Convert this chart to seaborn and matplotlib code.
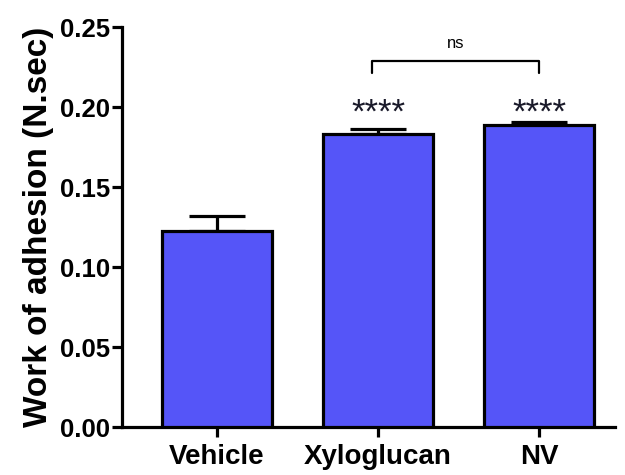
import matplotlib
matplotlib.use("Agg")
import matplotlib.pyplot as plt
import seaborn as sns
import pandas as pd
import numpy as np

categories = ["Vehicle", "Xyloglucan", "NV"]
means = [0.1225, 0.1830, 0.1890]
sem = [0.0095, 0.0030, 0.0015]
stars = ["", "****", "****"]
ytick_vals = [0.00, 0.05, 0.10, 0.15, 0.20, 0.25]
ytick_labels = ["0.00", "0.05", "0.10", "0.15", "0.20", "0.25"]

sns.set_theme(style="ticks")
plt.rcParams["font.family"] = ["Liberation Sans", "DejaVu Sans"]
plt.rcParams["text.color"] = "black"
plt.rcParams["axes.labelcolor"] = "black"
plt.rcParams["xtick.color"] = "black"
plt.rcParams["ytick.color"] = "black"
plt.rcParams["axes.edgecolor"] = "black"

df = pd.DataFrame({"group": categories, "value": means})

fig = plt.figure(figsize=(6.25, 4.75), dpi=100)
ax = fig.add_axes([0.195, 0.101, 0.789, 0.842])

lw = 2.3
sns.barplot(data=df, x="group", y="value", order=categories, color="#5555F8",
            saturation=1, width=0.68, edgecolor="black", linewidth=lw,
            errorbar=None, ax=ax, zorder=3)

x = np.arange(len(categories))
ax.errorbar(x, means, yerr=[np.zeros(len(sem)), sem], fmt="none",
            ecolor="black", elinewidth=lw, capsize=20, capthick=lw, zorder=2)

for xi, st in zip(x, stars):
    if st:
        ax.text(xi, 0.1905, st, ha="center", va="baseline", fontsize=25,
                color="#1a1a2a", zorder=5)

# significance bracket
yb = 0.2288
ax.plot([0.96, 0.96, 2.0, 2.0], [yb - 0.0073, yb, yb, yb - 0.0073],
        color="black", lw=1.6, zorder=4, clip_on=False)
ax.text(1.48, 0.237, "ns", ha="center", va="baseline", fontsize=12)

ax.set_xlim(-0.59, 2.47)
ax.set_ylim(0, 0.25)
ax.set_yticks(ytick_vals)
ax.set_yticklabels(ytick_labels)
ax.set_xlabel("")
ax.set_ylabel("Work of adhesion (N.sec)", fontsize=24, fontweight="bold",
              labelpad=4)
for lab in ax.get_yticklabels():
    lab.set_fontweight("bold")
    lab.set_fontsize(18.5)
for lab in ax.get_xticklabels():
    lab.set_fontweight("bold")
    lab.set_fontsize(20)
ax.tick_params(axis="both", direction="out", length=7, width=lw)
ax.tick_params(axis="y", pad=1.5)
ax.tick_params(axis="x", pad=5)

sns.despine(ax=ax)
for sp in ["left", "bottom"]:
    ax.spines[sp].set_linewidth(lw)

fig.savefig("out.png", dpi=100)
